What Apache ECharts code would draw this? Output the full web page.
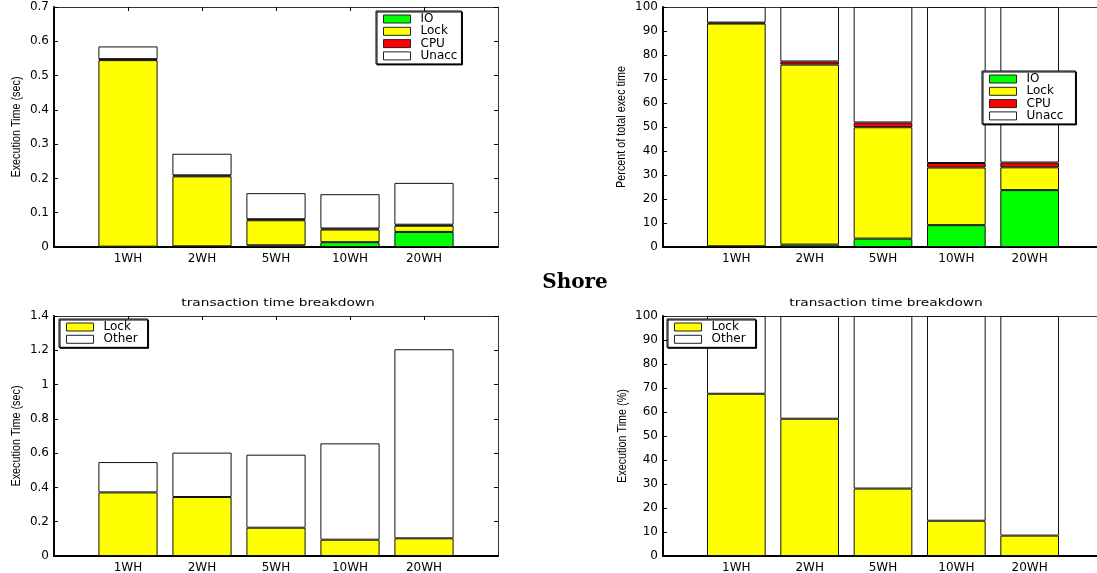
<!DOCTYPE html>
<html>
<head>
<meta charset="utf-8">
<script src="https://cdn.jsdelivr.net/npm/echarts@6/dist/echarts.min.js"></script>
<style>
  html, body { margin: 0; padding: 0; background: #fff; }
  #chart { width: 1097px; height: 573px; }
</style>
</head>
<body>
<div id="chart"></div>
<script>
// Warehouse configurations on the x axis
const categories = ['1WH', '2WH', '5WH', '10WH', '20WH'];

// Top left: execution time breakdown (sec)
const timeIO    = [0.001, 0.002, 0.005, 0.014, 0.044];
const timeLock  = [0.544, 0.204, 0.073, 0.037, 0.018];
const timeCPU   = [0.003, 0.003, 0.003, 0.003, 0.003];
const timeUnacc = [0.037, 0.063, 0.076, 0.100, 0.122];

// Top right: percent of total exec time
const pctIO    = [0.3, 1.0, 3.5, 9.1, 23.7];
const pctLock  = [92.8, 75.0, 46.4, 24.0, 9.5];
const pctCPU   = [0.4, 1.3, 2.0, 1.9, 2.0];
const pctUnacc = [6.5, 22.7, 48.1, 65.0, 64.8];

// Bottom left: transaction time breakdown (sec)
const txLock  = [0.371, 0.344, 0.165, 0.095, 0.103];
const txOther = [0.177, 0.259, 0.426, 0.562, 1.103];

// Bottom right: transaction time breakdown (%)
const txPctLock  = [67.6, 57.2, 28.1, 14.7, 8.5];
const txPctOther = [32.4, 42.8, 71.9, 85.3, 91.5];

// Axis tick settings
const yTicksTL = { max: 0.7, interval: 0.1 };
const yTicksTR = { max: 100, interval: 10 };
const yTicksBL = { max: 1.4, interval: 0.2 };
const yTicksBR = { max: 100, interval: 10 };

const COLORS = { IO: '#00ff00', Lock: '#ffff00', CPU: '#ff0000', Unacc: '#ffffff', Other: '#ffffff' };
const tickFont = "'DejaVu Sans', sans-serif";
const nameFont = "'Liberation Sans', Arial, sans-serif";

// One empty slot on each side so the bars sit at 1..5 of a 0..6 range
const axisSlots = [' ', ...categories, '  '];
const isCategorySlot = idx => idx >= 1 && idx <= categories.length;

const panels = [
  { left: 54,  top: 7,   width: 444, height: 240, y: yTicksTL, yName: 'Execution Time (sec)', nameAt: [16, 127],
    series: [['IO', timeIO], ['Lock', timeLock], ['CPU', timeCPU], ['Unacc', timeUnacc]] },
  { left: 663, top: 7,   width: 440, height: 240, y: yTicksTR, yName: 'Percent of total exec time', nameAt: [621, 127],
    series: [['IO', pctIO], ['Lock', pctLock], ['CPU', pctCPU], ['Unacc', pctUnacc]] },
  { left: 54,  top: 316, width: 444, height: 240, y: yTicksBL, yName: 'Execution Time (sec)', nameAt: [16, 436],
    series: [['Lock', txLock], ['Other', txOther]] },
  { left: 663, top: 316, width: 440, height: 240, y: yTicksBR, yName: 'Execution Time (%)', nameAt: [622, 436],
    series: [['Lock', txPctLock], ['Other', txPctOther]] }
];

const grid = [], xAxis = [], yAxis = [], series = [], graphic = [];
panels.forEach((p, g) => {
  grid.push({ left: p.left, top: p.top, width: p.width, height: p.height, containLabel: false, outerBoundsMode: 'none' });
  const xBase = { type: 'category', gridIndex: g, data: axisSlots, boundaryGap: false, splitLine: { show: false } };
  xAxis.push(Object.assign({}, xBase, {
    position: 'bottom',
    axisLine: { show: true, onZero: false, lineStyle: { color: '#000', width: 2 } },
    axisTick: { show: false },
    axisLabel: { show: true, interval: 0, margin: 6, color: '#000', fontFamily: tickFont, fontSize: 12 }
  }));
  xAxis.push(Object.assign({}, xBase, {
    position: 'top',
    axisLine: { show: true, onZero: false, lineStyle: { color: '#333', width: 1 } },
    axisTick: { show: true, inside: true, length: 4, interval: isCategorySlot, lineStyle: { color: '#000' } },
    axisLabel: { show: false }
  }));
  const yBase = { type: 'value', gridIndex: g, min: 0, max: p.y.max, interval: p.y.interval, splitLine: { show: false } };
  yAxis.push(Object.assign({}, yBase, {
    position: 'left',
    axisLine: { show: true, onZero: false, lineStyle: { color: '#000', width: 2 } },
    axisTick: { show: true, inside: true, length: 4, lineStyle: { color: '#000' } },
    axisLabel: { show: true, margin: 5, color: '#000', fontFamily: tickFont, fontSize: 12 }
  }));
  yAxis.push(Object.assign({}, yBase, {
    position: 'right',
    axisLine: { show: true, onZero: false, lineStyle: { color: '#333', width: 1 } },
    axisTick: { show: true, inside: true, length: 4, lineStyle: { color: '#000' } },
    axisLabel: { show: false }
  }));
  const barW = 0.8 * p.width / 6;
  p.series.forEach(([name, values]) => {
    series.push({
      name, type: 'bar', stack: 'panel' + g,
      xAxisIndex: 2 * g, yAxisIndex: 2 * g,
      barWidth: barW,
      data: values.map((v, i) => [categories[i], v]),
      itemStyle: { color: COLORS[name], borderColor: '#111', borderWidth: 1 },
      emphasis: { disabled: true },
      silent: true
    });
  });
  // Narrow, rotated y-axis title
  graphic.push({
    type: 'text', x: p.nameAt[0], y: p.nameAt[1], rotation: Math.PI / 2, scaleX: 0.8, silent: true,
    style: { text: p.yName, fill: '#000', font: '13.5px ' + nameFont, textAlign: 'center', textVerticalAlign: 'middle' }
  });
});

function legendAt(names, left, top, padRight) {
  return {
    data: names, left, top, orient: 'vertical', icon: 'rect',
    itemWidth: 27, itemHeight: 8, itemGap: 0.3,
    padding: [2, padRight, 2, 7],
    backgroundColor: '#fff', borderColor: '#000', borderWidth: 1,
    shadowColor: '#000', shadowOffsetX: 1, shadowOffsetY: 1, shadowBlur: 0,
    selectedMode: false,
    itemStyle: { borderColor: '#222', borderWidth: 1 },
    textStyle: { color: '#000', fontFamily: tickFont, fontSize: 12, padding: [0, 0, 0, 5] }
  };
}

const legend = [
  legendAt(['IO', 'Lock', 'CPU', 'Unacc'], 376, 11, 4),
  legendAt(['IO', 'Lock', 'CPU', 'Unacc'], 982, 71, 12),
  legendAt(['Lock', 'Other'], 59, 319, 10),
  legendAt(['Lock', 'Other'], 667, 319, 10)
];

graphic.push(
  { type: 'text', x: 575, y: 283, silent: true,
    style: { text: 'Shore', fill: '#000', font: "bold 20px 'DejaVu Serif', serif", textAlign: 'center', textVerticalAlign: 'middle' } },
  { type: 'text', x: 278, y: 303, scaleX: 1.25, silent: true,
    style: { text: 'transaction time breakdown', fill: '#000', font: "11px " + tickFont, textAlign: 'center', textVerticalAlign: 'middle' } },
  { type: 'text', x: 886, y: 303, scaleX: 1.25, silent: true,
    style: { text: 'transaction time breakdown', fill: '#000', font: "11px " + tickFont, textAlign: 'center', textVerticalAlign: 'middle' } }
);

const chart = echarts.init(document.getElementById('chart'));
chart.setOption({
  animation: false,
  backgroundColor: '#fff',
  grid, xAxis, yAxis, series, legend, graphic
});
</script>
</body>
</html>
